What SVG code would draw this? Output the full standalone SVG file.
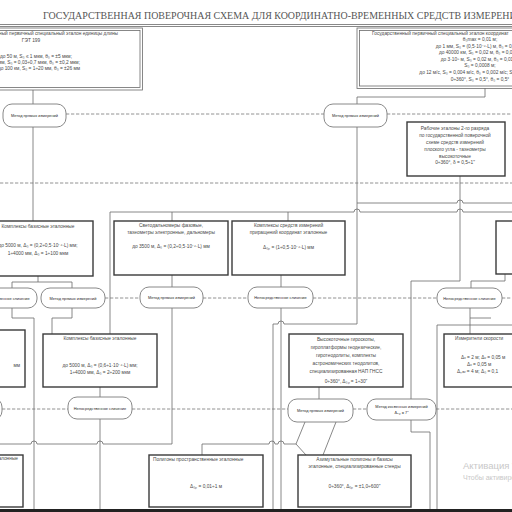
<svg xmlns="http://www.w3.org/2000/svg" width="512" height="512" viewBox="0 0 512 512">
<style>
.box{fill:#fff;stroke:#3a3a3a;stroke-width:1.4}
.dbl{fill:none;stroke:#6a6a6a;stroke-width:0.8}
.oval{fill:#fff;stroke:#7a7a7a;stroke-width:0.9}
.ln{fill:none;stroke:#6a6a6a;stroke-width:0.8}
.dash{fill:none;stroke:#777;stroke-width:0.8;stroke-dasharray:3.3 1.7}
.t{font-family:"Liberation Sans",Arial,sans-serif;font-size:4.8px;fill:#484848}
.to{font-family:"Liberation Sans",Arial,sans-serif;font-size:3.9px;fill:#2a2a2a;text-anchor:middle}
.c{text-anchor:middle}
.e{text-anchor:end}
.title{font-family:"Liberation Serif","Times New Roman",serif;font-size:9.95px;fill:#555}
.wm1{font-family:"Liberation Sans",Arial,sans-serif;font-size:9.5px;fill:#c8c8c8}
.wm2{font-family:"Liberation Sans",Arial,sans-serif;font-size:7px;fill:#c8c8c8}
</style>
<rect width="512" height="512" fill="#fff"/>
<text class="title" x="43" y="19">ГОСУДАРСТВЕННАЯ ПОВЕРОЧНАЯ СХЕМА ДЛЯ КООРДИНАТНО-ВРЕМЕННЫХ СРЕДСТВ ИЗМЕРЕНИЙ</text>
<path class="ln" d="M0 24.5H512M0 26.5H512"/>

<g id="connectors">
<path class="ln" d="M33 90V104M33 127V221"/>
<path class="dash" d="M66 114H324M387 114H512"/>
<path class="ln" d="M485 88V97H357V104M357 127V324H284a3 3 0 0 0 -6 0H273V512"/>
<path class="ln" d="M357 203H457a3 3 0 0 1 6 0H512"/>
<path class="ln" d="M110 212H354a3 3 0 0 1 6 0H457a3 3 0 0 1 6 0H512"/>
<path class="ln" d="M110 212V334M172 212V221M288 212V221"/>
<path class="ln" d="M460 176V281H411V399"/>
<path class="ln" d="M38 276V282M12 282H72M12 282V288M72 282V288"/>
<path class="dash" d="M105 298H140M203 298H248M313 298H437M502 298H512"/>
<path class="ln" d="M172 275V287M172 308V444H103a3 3 0 0 0 -6 0H37a3 3 0 0 0 -6 0H0"/>
<path class="ln" d="M281 275V287M281 308V512"/>
<path class="ln" d="M12 308V318H34V512M72 308V318H52V334"/>
<path class="ln" d="M100 387V397M100 419V512"/>
<path class="dash" d="M2 409H68M132 409H288M353 409H367M436 409H512"/>
<path class="ln" d="M319 387V399M305 422L296 444H284a3 3 0 0 0 -6 0H275a3 3 0 0 0 -6 0H202V455M296 444L306 455M336 422L323 455"/>
<path class="ln" d="M411 420V432H430V512M437 325V512M437 325H512M470 308V318H491M470 318V334"/>
<path class="ln" d="M505 274V281H471V288"/>
</g>

<g id="n-top-left">
<rect x="-10" y="28" width="152.5" height="62" class="dbl"/>
<rect x="-8" y="30.5" width="148" height="57" class="dbl"/>
<text class="t e" x="118" y="35">Государственный первичный специальный эталон единицы длины</text>
<text class="t c" x="31" y="42">ГЭТ 199</text>
<text class="t e" x="72" y="58">до 50 м, S₀ ≤ 1 мкм, θ₀ = ±5 мкм;</text>
<text class="t e" x="80" y="64">до 1 мм, S₀ = 0,03÷0,7 мкм, θ₀ = ±0,2 мкм;</text>
<text class="t e" x="80" y="70">до 100 км, S₀ = 1÷20 мм, θ₀ = ±26 мм</text>
</g>

<g id="n-top-right">
<rect x="357" y="28" width="170" height="60.5" class="dbl"/>
<rect x="359.5" y="30.5" width="165" height="55.5" class="dbl"/>
<text class="t" x="372" y="35">Государственный первичный специальный эталон координат</text>
<text class="t c" x="480" y="41">θ₀max = 0,01 м;</text>
<text class="t c" x="480" y="48">до 1 мм, S₀ = (0,5·10⁻⁶·L) м, θ₀ = 0,01 м;</text>
<text class="t c" x="480" y="54">до 40000 км, S₀ = 0,02 м, θ₀ = 0,01 м;</text>
<text class="t c" x="480" y="61">до 3·10⁸ м, S₀ = 0,02 м, θ₀ = 0,01 м;</text>
<text class="t c" x="480" y="67">S₀ = 0,0008 м;</text>
<text class="t c" x="480" y="74">до 12 м/с, S₀ = 0,004 м/с, θ₀ = 0,002 м/с; S₀ = 0,0008 м;</text>
<text class="t c" x="480" y="81">0÷360°, S₀ = 0,5°, θ₀ = 0,5°</text>
</g>

<g id="o-a"><rect x="3" y="104" width="63" height="23" rx="9" class="oval"/><text class="to" x="34.5" y="117">Метод прямых измерений</text></g>
<g id="o-b"><rect x="324" y="104" width="63" height="23" rx="9" class="oval"/><text class="to" x="355.5" y="117">Метод прямых измерений</text></g>

<g id="n-rabochie">
<rect x="407" y="122" width="98" height="54" class="box"/>
<text class="t c" x="455" y="130">Рабочие эталоны 2-го разряда</text>
<text class="t c" x="455" y="137">по государственной поверочной</text>
<text class="t c" x="455" y="144">схеме средств измерений</text>
<text class="t c" x="455" y="151">плоского угла - тахеометры</text>
<text class="t c" x="455" y="157.5">высокоточные</text>
<text class="t c" x="455" y="164">0÷360°, δ = 0,5÷1"</text>
</g>

<path class="dash" d="M0 183H512"/>

<g id="n-bazis1">
<rect x="-17" y="221" width="110" height="55" class="box"/>
<text class="t c" x="38" y="228">Комплексы базисные эталонные</text>
<text class="t c" x="38" y="247">до 5000 м, Δ₀ = (0,2÷0,5·10⁻⁶·L) мм;</text>
<text class="t c" x="38" y="255">1÷4000 мм, Δ₀ = 1÷100 мкм</text>
</g>
<g id="n-svetodal">
<rect x="114" y="221" width="114" height="54" class="box"/>
<text class="t c" x="171" y="227">Светодальномеры фазовые,</text>
<text class="t c" x="171" y="234">тахеометры электронные, дальномеры</text>
<text class="t c" x="171" y="248">до 3500 м, Δ₀ = (0,2÷0,5·10⁻⁶·L) мм</text>
</g>
<g id="n-prirasch">
<rect x="232" y="221" width="113" height="54" class="box"/>
<text class="t c" x="288.5" y="227">Комплексы средств измерений</text>
<text class="t c" x="288.5" y="234">приращений координат эталонные</text>
<text class="t c" x="288.5" y="249">Δ₀ₚ = (1÷0,5·10⁻⁶·L) мм</text>
</g>
<g id="n-right1"><rect x="496" y="221" width="30" height="53" class="box"/></g>

<g id="o-c"><rect x="-30" y="288" width="67" height="20" rx="9" class="oval"/><text class="to" x="3.5" y="299.5">Непосредственное сличение</text></g>
<g id="o-d"><rect x="41" y="288" width="64" height="20" rx="9" class="oval"/><text class="to" x="73" y="299.5">Метод прямых измерений</text></g>
<g id="o-e"><rect x="140" y="287" width="63" height="21" rx="9" class="oval"/><text class="to" x="171.5" y="299">Метод прямых измерений</text></g>
<g id="o-f"><rect x="248" y="287" width="65" height="21" rx="9" class="oval"/><text class="to" x="280.5" y="299">Непосредственное сличение</text></g>
<g id="o-g"><rect x="437" y="288" width="65" height="20" rx="9" class="oval"/><text class="to" x="469.5" y="299.5">Непосредственное сличение</text></g>

<g id="n-left2"><rect x="-20" y="330" width="45" height="57" class="box"/><text class="t e" x="20" y="367">мм</text></g>
<g id="n-bazis2">
<rect x="43" y="334" width="114" height="53" class="box"/>
<text class="t c" x="100" y="340">Комплексы базисные эталонные</text>
<text class="t c" x="100" y="367">до 5000 м, Δ₀ = (0,6÷1·10⁻⁶·L) мм;</text>
<text class="t c" x="100" y="374">1÷4000 мм, Δ₀ = 2÷200 мкм</text>
</g>
<g id="n-giro">
<rect x="289" y="334" width="114" height="53" class="box"/>
<text class="t c" x="346" y="341">Высокоточные гироскопы,</text>
<text class="t c" x="346" y="349">гироплатформы геодезические,</text>
<text class="t c" x="346" y="357">гиротеодолиты, комплекты</text>
<text class="t c" x="346" y="365">астрономических теодолитов,</text>
<text class="t c" x="346" y="373">специализированная НАП ГНСС</text>
<text class="t c" x="346" y="383">0÷360°, Δ₀ₚ = 1÷30"</text>
</g>
<g id="n-izmer">
<rect x="444" y="334" width="80" height="53" class="box"/>
<text class="t" x="455" y="340">Измерители скорости</text>
<text class="t" x="461" y="359">Δᵥ = 2 м; Δᵥ = 0,05 м</text>
<text class="t" x="467" y="366">Δᵥ = 0,05 м</text>
<text class="t" x="457" y="373">Δₙₐᵥ = 4 м; Δ₀ = 0,1</text>
</g>

<g id="o-h"><rect x="-60" y="398" width="62" height="22" rx="9" class="oval"/></g>
<g id="o-i"><rect x="68" y="397" width="64" height="22" rx="9" class="oval"/><text class="to" x="100" y="409.5">Непосредственное сличение</text></g>
<g id="o-j"><rect x="288" y="399" width="65" height="23" rx="9" class="oval"/><text class="to" x="320.5" y="411.5">Метод прямых измерений</text></g>
<g id="o-k"><rect x="367" y="399" width="69" height="21" rx="9" class="oval"/><text class="to" x="401.5" y="408">Метод косвенных измерений</text><text class="to" x="401.5" y="414">Δ₀ₚ = 7"</text></g>

<g id="n-left3"><rect x="-20" y="455" width="43" height="52" class="box"/><text class="t e" x="18" y="460">эталонные</text></g>
<g id="n-poligony">
<rect x="149" y="455" width="114" height="52" class="box"/>
<text class="t" x="153" y="461">Полигоны пространственные эталонные</text>
<text class="t c" x="206" y="488">Δ₀ₚ = 0,01÷1 м</text>
</g>
<g id="n-azimut">
<rect x="298" y="455" width="113" height="52" class="box"/>
<text class="t c" x="354.5" y="461">Азимутальные полигоны и базисы</text>
<text class="t c" x="354.5" y="468">эталонные, специализированные стенды</text>
<text class="t c" x="354.5" y="488">0÷360°, Δ₀ₚ = ±1,0÷600"</text>
</g>

<text class="wm1" x="463" y="469">Активация Windows</text>
<text class="wm2" x="463" y="480">Чтобы активировать Windows, перейдите в раздел</text>
<rect x="0" y="509" width="512" height="3" fill="#222"/>
</svg>
